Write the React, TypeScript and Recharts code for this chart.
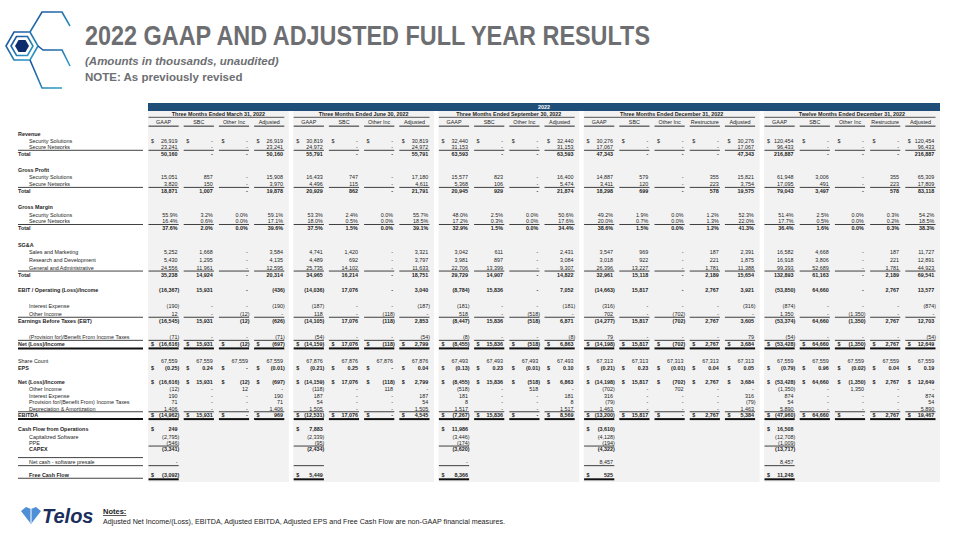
import React from 'react'
import {
  ScatterChart,
  Scatter,
  XAxis,
  YAxis,
  ReferenceArea,
  ReferenceLine,
} from 'recharts'

// ---- table header text ----
const groupTitles = [
  'Three Months Ended March 31, 2022',
  'Three Months Ended June 30, 2022',
  'Three Months Ended September 30, 2022',
  'Three Months Ended December 31, 2022',
  'Twelve Months Ended December 31, 2022',
]
const groupColumns = [
  ['GAAP', 'SBC', 'Other Inc', 'Adjusted'],
  ['GAAP', 'SBC', 'Other Inc', 'Adjusted'],
  ['GAAP', 'SBC', 'Other Inc', 'Adjusted'],
  ['GAAP', 'SBC', 'Other Inc', 'Restructure', 'Adjusted'],
  ['GAAP', 'SBC', 'Other Inc', 'Restructure', 'Adjusted'],
]

// ---- values, one entry per column (Q1 x4, Q2 x4, Q3 x4, Q4 x5, FY x5) ----
const revSecuritySolutions = [26919, 0, 0, 26919, 30819, 0, 0, 30819, 32440, 0, 0, 32440, 30276, 0, 0, 0, 30276, 120454, 0, 0, 0, 120454]
const revSecureNetworks = [23241, 0, 0, 23241, 24972, 0, 0, 24972, 31153, 0, 0, 31153, 17067, 0, 0, 0, 17067, 96433, 0, 0, 0, 96433]
const revTotal = [50160, 0, 0, 50160, 55791, 0, 0, 55791, 63593, 0, 0, 63593, 47343, 0, 0, 0, 47343, 216887, 0, 0, 0, 216887]
const gpSecuritySolutions = [15051, 857, 0, 15908, 16433, 747, 0, 17180, 15577, 823, 0, 16400, 14887, 579, 0, 355, 15821, 61948, 3006, 0, 355, 65309]
const gpSecureNetworks = [3820, 150, 0, 3970, 4496, 115, 0, 4611, 5368, 106, 0, 5474, 3411, 120, 0, 223, 3754, 17095, 491, 0, 223, 17809]
const gpTotal = [18871, 1007, 0, 19878, 20929, 862, 0, 21791, 20945, 929, 0, 21874, 18298, 699, 0, 578, 19575, 79043, 3497, 0, 578, 83118]
const gmSecuritySolutions = [55.9, 3.2, 0, 59.1, 53.3, 2.4, 0, 55.7, 48.0, 2.5, 0, 50.6, 49.2, 1.9, 0, 1.2, 52.3, 51.4, 2.5, 0, 0.3, 54.2]
const gmSecureNetworks = [16.4, 0.6, 0, 17.1, 18.0, 0.5, 0, 18.5, 17.2, 0.3, 0, 17.6, 20.0, 0.7, 0, 1.3, 22.0, 17.7, 0.5, 0, 0.2, 18.5]
const gmTotal = [37.6, 2.0, 0, 39.6, 37.5, 1.5, 0, 39.1, 32.9, 1.5, 0, 34.4, 38.6, 1.5, 0, 1.2, 41.3, 36.4, 1.6, 0, 0.3, 38.3]
const salesMarketing = [5252, 1668, 0, 3584, 4741, 1420, 0, 3321, 3042, 611, 0, 2431, 3547, 969, 0, 187, 2391, 16582, 4668, 0, 187, 11727]
const researchDevelopment = [5430, 1295, 0, 4135, 4489, 692, 0, 3797, 3981, 897, 0, 3084, 3018, 922, 0, 221, 1875, 16918, 3806, 0, 221, 12891]
const generalAdmin = [24556, 11961, 0, 12595, 25735, 14102, 0, 11633, 22706, 13399, 0, 9307, 26396, 13227, 0, 1781, 11388, 99393, 52689, 0, 1781, 44923]
const sgaTotal = [35238, 14924, 0, 20314, 34965, 16214, 0, 18751, 29729, 14907, 0, 14822, 32961, 15118, 0, 2189, 15654, 132893, 61163, 0, 2189, 69541]
const ebit = [-16367, 15931, 0, -436, -14036, 17076, 0, 3040, -8784, 15836, 0, 7052, -14663, 15817, 0, 2767, 3921, -53850, 64660, 0, 2767, 13577]
const interestExpense = [-190, 0, 0, -190, -187, 0, 0, -187, -181, 0, 0, -181, -316, 0, 0, 0, -316, -874, 0, 0, 0, -874]
const otherIncome = [12, 0, -12, 0, 118, 0, -118, 0, 518, 0, -518, 0, 702, 0, -702, 0, 0, 1350, 0, -1350, 0, 0]
const ebt = [-16545, 15931, -12, -626, -14105, 17076, -118, 2853, -8447, 15836, -518, 6871, -14277, 15817, -702, 2767, 3605, -53374, 64660, -1350, 2767, 12703]
const incomeTaxes = [-71, 0, 0, -71, -54, 0, 0, -54, -8, 0, 0, -8, 79, 0, 0, 0, 79, -54, 0, 0, 0, -54]
const netIncome = [-16616, 15931, -12, -697, -14159, 17076, -118, 2799, -8455, 15836, -518, 6863, -14198, 15817, -702, 2767, 3684, -53428, 64660, -1350, 2767, 12649]
const shareCount = [67559, 67559, 67559, 67559, 67876, 67876, 67876, 67876, 67493, 67493, 67493, 67493, 67313, 67313, 67313, 67313, 67313, 67559, 67559, 67559, 67559, 67559]
const eps = [-0.25, 0.24, 0, -0.01, -0.21, 0.25, 0, 0.04, -0.13, 0.23, -0.01, 0.1, -0.21, 0.23, -0.01, 0.04, 0.05, -0.79, 0.96, -0.02, 0.04, 0.19]
const addOtherIncome = [-12, 0, 12, 0, -118, 0, 118, 0, -518, 0, 518, 0, -702, 0, 702, 0, 0, -1350, 0, 1350, 0, 0]
const addInterest = [190, 0, 0, 190, 187, 0, 0, 187, 181, 0, 0, 181, 316, 0, 0, 0, 316, 874, 0, 0, 0, 874]
const addTaxes = [71, 0, 0, 71, 54, 0, 0, 54, 8, 0, 0, 8, -79, 0, 0, 0, -79, 54, 0, 0, 0, 54]
const depreciation = [1406, 0, 0, 1406, 1505, 0, 0, 1505, 1517, 0, 0, 1517, 1463, 0, 0, 0, 1463, 5890, 0, 0, 0, 5890]
const ebitda = [-14962, 15931, 0, 969, -12531, 17076, 0, 4545, -7267, 15836, 0, 8569, -13200, 15817, 0, 2767, 5384, -47960, 64660, 0, 2767, 19467]

// cash flow, GAAP column of each period only
const cashFromOps = [249, 7883, 11986, -3610, 16508]
const capSoftware = [-2795, -2339, -3446, -4128, -12708]
const ppe = [-546, -95, -174, -194, -1009]
const capex = [-3341, -2434, -3620, -4322, -13717]
const softwarePresale = [0, null, 0, 8457, 8457]
const freeCashFlow = [-3092, 5449, 8366, 525, 11248]

// ---- layout ----
const COL_PX = 35.2
const ROW_PX = 7
const X_MAX = 960 / COL_PX
const Y_MAX = 540 / ROW_PX
const TABLE_LEFT = 148 / COL_PX
const GROUP_GAP = 4.4 / COL_PX
const LABEL_LEFT = 18 / COL_PX
const LABEL_INDENT = 29 / COL_PX
const LABEL_RULE_END = 143 / COL_PX
const BAR_TOP = 103 / ROW_PX
const BAR_BOTTOM = 111 / ROW_PX
const PANEL_BOTTOM = 482 / ROW_PX
const TITLE_ROW = 114.5 / ROW_PX
const HEADER_ROW = 122.3 / ROW_PX
const FONT = "'Liberation Sans', Arial, sans-serif"
const CELL_SIZE = 5.4

type Kind = 'int' | 'pct' | 'eps'
type RuleKind = 'single' | 'double' | 'none'
type RowSpec = {
  label: string
  gap: number
  values?: (number | null)[]
  cash?: boolean
  kind?: Kind
  bold?: boolean
  dollar?: boolean
  indent?: boolean
  rule?: RuleKind
  labelRule?: RuleKind
  labelRuleAbove?: boolean
}

const rows: RowSpec[] = [
  { label: 'Revenue', gap: 1.7, bold: true },
  { label: 'Security Solutions', gap: 0.95, values: revSecuritySolutions, dollar: true, indent: true },
  { label: 'Secure Networks', gap: 0.9, values: revSecureNetworks, indent: true, rule: 'single' },
  { label: 'Total', gap: 0.95, values: revTotal, bold: true },
  { label: 'Gross Profit', gap: 2.35, bold: true },
  { label: 'Security Solutions', gap: 1.0, values: gpSecuritySolutions, indent: true },
  { label: 'Secure Networks', gap: 1.0, values: gpSecureNetworks, indent: true, rule: 'single' },
  { label: 'Total', gap: 0.95, values: gpTotal, bold: true },
  { label: 'Gross Margin', gap: 2.35, bold: true },
  { label: 'Security Solutions', gap: 1.05, values: gmSecuritySolutions, kind: 'pct', indent: true },
  { label: 'Secure Networks', gap: 0.95, values: gmSecureNetworks, kind: 'pct', indent: true, rule: 'single' },
  { label: 'Total', gap: 1.0, values: gmTotal, kind: 'pct', bold: true },
  { label: 'SG&A', gap: 2.45, bold: true },
  { label: 'Sales and Marketing', gap: 1.0, values: salesMarketing, indent: true },
  { label: 'Research and Development', gap: 1.1, values: researchDevelopment, indent: true },
  { label: 'General and Administrative', gap: 1.1, values: generalAdmin, indent: true, rule: 'single' },
  { label: 'Total', gap: 1.0, values: sgaTotal, bold: true },
  { label: 'EBIT / Operating (Loss)/Income', gap: 2.2, values: ebit, bold: true },
  { label: 'Interest Expense', gap: 2.3, values: interestExpense, indent: true },
  { label: 'Other Income', gap: 1.1, values: otherIncome, indent: true, rule: 'single' },
  { label: 'Earnings Before Taxes (EBT)', gap: 1.0, values: ebt, bold: true },
  { label: '(Provision for)/Benefit From Income Taxes', gap: 2.3, values: incomeTaxes, indent: true, rule: 'single' },
  { label: 'Net (Loss)/Income', gap: 1.0, values: netIncome, bold: true, dollar: true, rule: 'double' },
  { label: 'Share Count', gap: 2.45, values: shareCount },
  { label: 'EPS', gap: 1.0, values: eps, kind: 'eps', bold: true, dollar: true },
  { label: 'Net (Loss)/Income', gap: 2.0, values: netIncome, bold: true, dollar: true },
  { label: 'Other Income', gap: 1.0, values: addOtherIncome, indent: true },
  { label: 'Interest Expense', gap: 0.9, values: addInterest, indent: true },
  { label: 'Provision for/(Benefit From) Income Taxes', gap: 0.9, values: addTaxes, indent: true },
  { label: 'Depreciation & Amortization', gap: 0.95, values: depreciation, indent: true, rule: 'single' },
  { label: 'EBITDA', gap: 0.9, values: ebitda, bold: true, dollar: true, rule: 'double' },
  { label: 'Cash Flow from Operations', gap: 2.0, values: cashFromOps, cash: true, bold: true, dollar: true },
  { label: 'Capitalized Software', gap: 1.1, values: capSoftware, cash: true, indent: true },
  { label: 'PPE', gap: 0.9, values: ppe, cash: true, indent: true, rule: 'single', labelRule: 'none' },
  { label: 'CAPEX', gap: 0.95, values: capex, cash: true, bold: true, indent: true, labelRule: 'none' },
  { label: 'Net cash - software presale', gap: 1.85, values: softwarePresale, cash: true, indent: true, rule: 'single', labelRuleAbove: true },
  { label: 'Free Cash Flow', gap: 1.8, values: freeCashFlow, cash: true, bold: true, indent: true, dollar: true, rule: 'double', labelRule: 'single' },
]

// ---- formatting ----
function withCommas(n: number, digits: number) {
  return Math.abs(n).toLocaleString('en-US', { minimumFractionDigits: digits, maximumFractionDigits: digits })
}
function formatValue(v: number, kind: Kind) {
  if (kind === 'pct') return `${v.toFixed(1)}%`
  if (v === 0) return '-'
  const s = withCommas(v, kind === 'eps' ? 2 : 0)
  return v < 0 ? `(${s})` : s
}

// ---- build cells ----
type Cell = { x: number; y: number; text: string; anchor: string; bold?: boolean; size?: number; color?: string }
type Rule = { x1: number; x2: number; y: number; width: number }

const columns: { left: number; right: number; group: number; name: string }[] = []
const groupSpans: { left: number; right: number }[] = []
{
  let start = TABLE_LEFT
  groupColumns.forEach((names, gi) => {
    names.forEach((name, ci) => columns.push({ left: start + ci, right: start + ci + 1, group: gi, name }))
    groupSpans.push({ left: start, right: start + names.length })
    start += names.length + GROUP_GAP
  })
}
const gaapColumns = groupSpans.map((g) => columns.find((c) => c.left === g.left)!)

const cells: Cell[] = []
const rules: Rule[] = []

function cellRule(col: { left: number; right: number }, y: number, width: number) {
  rules.push({ x1: col.left + 0.5 / COL_PX, x2: col.right - 4.5 / COL_PX, y, width })
}

groupSpans.forEach((g, gi) => {
  cells.push({ x: (g.left + g.right) / 2, y: TITLE_ROW, text: groupTitles[gi], anchor: 'middle', bold: true })
  rules.push({ x1: g.left + 0.5 / COL_PX, x2: g.right - 4.5 / COL_PX, y: TITLE_ROW + 0.4, width: 0.7 })
})
columns.forEach((c) => {
  cells.push({ x: (c.left + c.right) / 2 - 2 / COL_PX, y: HEADER_ROW, text: c.name, anchor: 'middle' })
  cellRule(c, HEADER_ROW + 0.55, 0.9)
})
cells.push({ x: (groupSpans[0].left + groupSpans[4].right) / 2, y: (BAR_TOP + BAR_BOTTOM) / 2, text: '2022', anchor: 'middle', bold: true, color: '#ffffff' })

let rowY = HEADER_ROW
rows.forEach((r) => {
  rowY += r.gap
  const y = rowY
  cells.push({ x: r.indent ? LABEL_INDENT : LABEL_LEFT, y, text: r.label, anchor: 'start', bold: r.bold })
  const targetCols = r.values ? (r.cash ? gaapColumns : columns) : []
  targetCols.forEach((c, i) => {
    const v = r.values![i]
    if (v === null || v === undefined) return
    const text = formatValue(v, r.kind || 'int')
    const neg = text.endsWith(')')
    cells.push({ x: c.right - (neg ? 4 : 5.7) / COL_PX, y, text, anchor: 'end', bold: r.bold })
    if (r.dollar) cells.push({ x: c.left + 3 / COL_PX, y, text: '$', anchor: 'start', bold: r.bold })
  })
  if (r.rule && r.rule !== 'none') {
    const ry = y + (r.rule === 'double' ? 0.6 : 0.45)
    const w = r.rule === 'double' ? 2 : 0.8
    targetCols.forEach((c) => cellRule(c, ry, w))
  }
  if (r.labelRuleAbove) {
    rules.push({ x1: LABEL_LEFT, x2: LABEL_RULE_END, y: y - 0.7, width: 0.8 })
  }
  const lr = r.labelRule ?? r.rule
  if (lr && lr !== 'none') {
    rules.push({ x1: LABEL_LEFT, x2: LABEL_RULE_END, y: y + (lr === 'double' ? 0.6 : 0.45), width: lr === 'double' ? 2 : 0.8 })
  }
})

function CellText(props: any) {
  const { cx, cy } = props
  const p: Cell = props.payload
  if (cx == null || cy == null || !p) return null
  return (
    <text
      x={cx}
      y={cy}
      dy="0.36em"
      textAnchor={p.anchor}
      fontSize={p.size || CELL_SIZE}
      fontWeight={p.bold ? 700 : 400}
      fontFamily={FONT}
      fill={p.color || '#1e1e1e'}
    >
      {p.text}
    </text>
  )
}

function TableChart() {
  return (
    <ScatterChart width={960} height={540} margin={{ top: 0, right: 0, bottom: 0, left: 0 }}>
      <XAxis type="number" dataKey="x" domain={[0, X_MAX]} hide allowDataOverflow />
      <YAxis type="number" dataKey="y" domain={[0, Y_MAX]} reversed hide allowDataOverflow />
      {groupSpans.map((g, i) => (
        <ReferenceArea
          key={`panel-${i}`}
          x1={g.left}
          x2={g.right}
          y1={BAR_BOTTOM}
          y2={PANEL_BOTTOM}
          fill="#f2f2f2"
          fillOpacity={1}
          stroke="none"
          ifOverflow="visible"
        />
      ))}
      <ReferenceArea
        x1={groupSpans[0].left}
        x2={groupSpans[4].right}
        y1={BAR_TOP}
        y2={BAR_BOTTOM}
        fill="#1f4e79"
        fillOpacity={1}
        stroke="none"
        ifOverflow="visible"
      />
      {rules.map((r, i) => (
        <ReferenceLine
          key={`rule-${i}`}
          segment={[{ x: r.x1, y: r.y }, { x: r.x2, y: r.y }]}
          stroke="#111111"
          strokeWidth={r.width}
          ifOverflow="visible"
        />
      ))}
      <Scatter data={cells} shape={(p: any) => <CellText {...p} />} isAnimationActive={false} />
    </ScatterChart>
  )
}

function SlideDecor() {
  return (
    <svg width={960} height={540} style={{ position: 'absolute', left: 0, top: 0, pointerEvents: 'none' }}>
      <defs>
        <linearGradient id="hexLine" x1="0" y1="0" x2="1" y2="1">
          <stop offset="0%" stopColor="#1d4f9c" />
          <stop offset="100%" stopColor="#2a9fc4" />
        </linearGradient>
      </defs>
      {/* corner hexagon mark */}
      <g fill="none" stroke="url(#hexLine)" strokeWidth={1.6}>
        <polygon points="6,46 14,32 30,32 38,46 30,60 14,60" />
        <polygon points="11,46 16.5,36.5 27.5,36.5 33,46 27.5,55.5 16.5,55.5" />
        <polyline points="30,32 42,12 62,12 70,26" />
        <polyline points="38,46 43,50 62,50 70,66" />
        <polyline points="30,60 42,88 62,88" />
      </g>
      <polygon points="15,46 18.5,40 25.5,40 29,46 25.5,52 18.5,52" fill="#0e2c6b" />
      <text x={85} y={45} fontFamily={FONT} fontSize={28} fontWeight={700} fill="#6d6e71" textLength={565} lengthAdjust="spacingAndGlyphs">
        2022 GAAP AND ADJUSTED FULL YEAR RESULTS
      </text>
      <text x={85} y={65} fontFamily={FONT} fontSize={11.5} fontWeight={700} fontStyle="italic" fill="#6d6e71">
        (Amounts in thousands, unaudited)
      </text>
      <text x={85} y={81} fontFamily={FONT} fontSize={11.5} fontWeight={700} fill="#6d6e71">
        NOTE: As previously revised
      </text>
      {/* footer */}
      <polygon points="21,511 26,507 31,509 36,507 41,511 31,524" fill="#4f8fd6" />
      <line x1={31} y1={509} x2={31} y2={523} stroke="#ffffff" strokeWidth={1} />
      <text x={42} y={523} fontFamily={FONT} fontSize={20} fontWeight={700} fontStyle="italic" fill="#1b2e5c">
        Telos
      </text>
      <text x={103} y={514} fontFamily={FONT} fontSize={7.5} fontWeight={700} fill="#222" textDecoration="underline">
        Notes:
      </text>
      <text x={103} y={524} fontFamily={FONT} fontSize={7.5} fill="#222" textLength={402} lengthAdjust="spacingAndGlyphs">
        Adjusted Net Income/(Loss), EBITDA, Adjusted EBITDA, Adjusted EPS and Free Cash Flow are non-GAAP financial measures.
      </text>
    </svg>
  )
}

export default function App() {
  return (
    <div style={{ position: 'absolute', left: 0, top: 0, width: 960, height: 540, background: '#ffffff', overflow: 'hidden' }}>
      <TableChart />
      <SlideDecor />
    </div>
  )
}
